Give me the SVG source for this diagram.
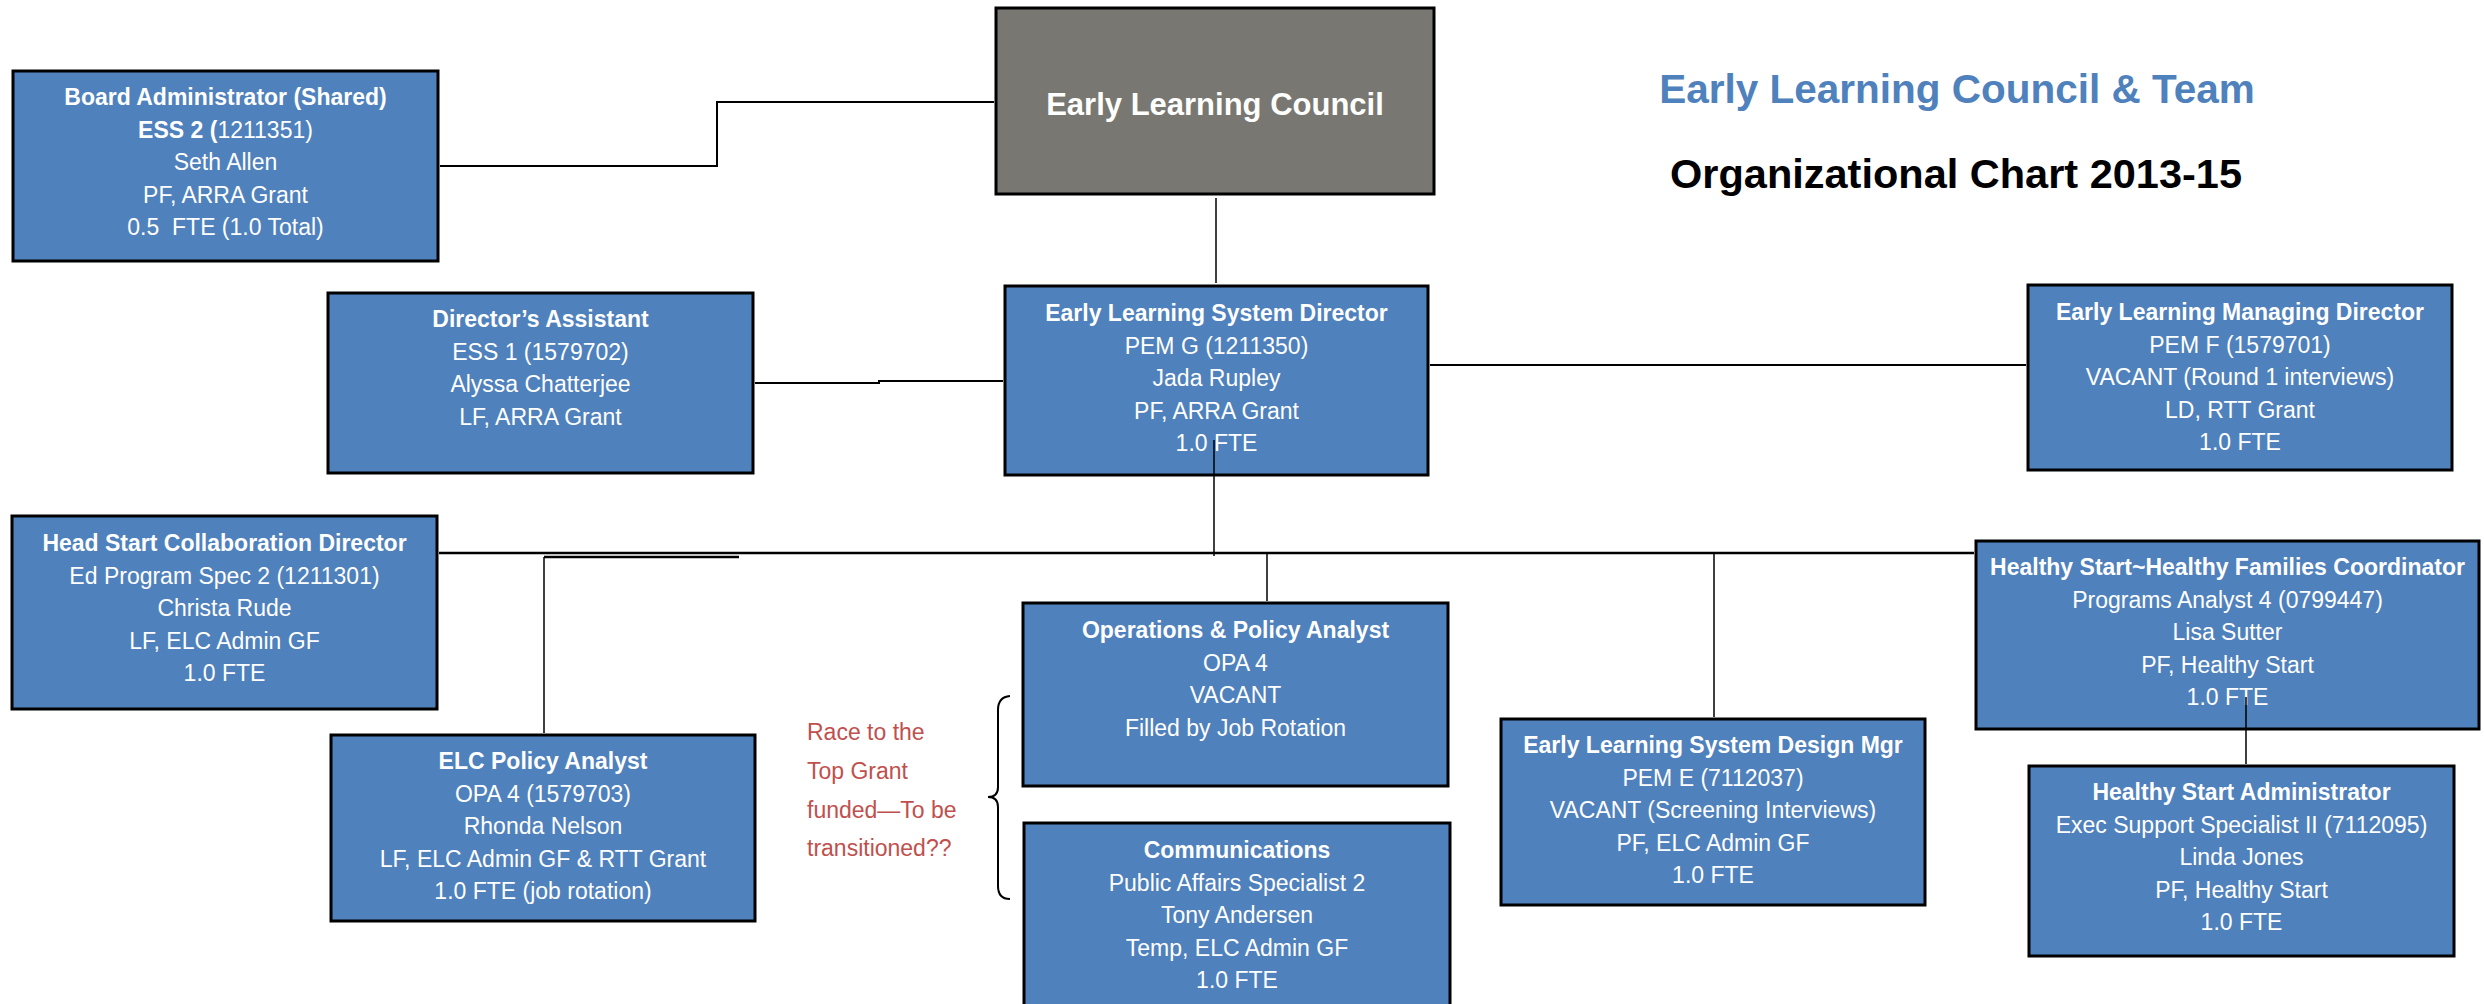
<svg xmlns="http://www.w3.org/2000/svg" width="2484" height="1004" viewBox="0 0 2484 1004">
<style>
.box{fill:#4f81bd;stroke:#000;stroke-width:3}
.grey{fill:#787771;stroke:#000;stroke-width:3}
.t{font-family:"Liberation Sans",Arial,sans-serif;font-size:23px;fill:#fff;text-anchor:middle;white-space:pre}
.b{font-weight:bold}
.c{stroke:#000;fill:none}
.red{font-family:"Liberation Sans",Arial,sans-serif;font-size:23px;fill:#c0504d}
</style>
<rect width="2484" height="1004" fill="#fff"/>
<g id="title">
<text x="1957" y="103" font-family="Liberation Sans, Arial, sans-serif" font-size="40.5" font-weight="bold" fill="#4f81bd" text-anchor="middle">Early Learning Council &amp; Team</text>
<text x="1956" y="188" font-family="Liberation Sans, Arial, sans-serif" font-size="41.5" font-weight="bold" fill="#000" text-anchor="middle">Organizational Chart 2013-15</text>
</g>
<g id="board-admin">
<rect class="box" x="13" y="71" width="425" height="190"/>
<text class="t"><tspan class="b" x="225.5" y="105">Board Administrator (Shared)</tspan><tspan x="225.5" y="137.5"><tspan class="b">ESS 2 (</tspan>1211351)</tspan><tspan x="225.5" y="170">Seth Allen</tspan><tspan x="225.5" y="202.5">PF, ARRA Grant</tspan><tspan x="225.5" y="235">0.5  FTE (1.0 Total)</tspan></text>
</g>
<g id="council">
<rect class="grey" x="996" y="8" width="438" height="186"/>
<text class="t b" x="1215" y="115" font-size="31" style="font-size:31px">Early Learning Council</text>
</g>
<g id="directors-assistant">
<rect class="box" x="328" y="293" width="425" height="180"/>
<text class="t"><tspan class="b" x="540.5" y="327">Director’s Assistant</tspan><tspan x="540.5" y="359.5">ESS 1 (1579702)</tspan><tspan x="540.5" y="392">Alyssa Chatterjee</tspan><tspan x="540.5" y="424.5">LF, ARRA Grant</tspan></text>
</g>
<g id="system-director">
<rect class="box" x="1005" y="286" width="423" height="189"/>
<text class="t"><tspan class="b" x="1216.5" y="321">Early Learning System Director</tspan><tspan x="1216.5" y="353.5">PEM G (1211350)</tspan><tspan x="1216.5" y="386">Jada Rupley</tspan><tspan x="1216.5" y="418.5">PF, ARRA Grant</tspan><tspan x="1216.5" y="451">1.0 FTE</tspan></text>
</g>
<g id="managing-director">
<rect class="box" x="2028" y="285" width="424" height="185"/>
<text class="t"><tspan class="b" x="2240" y="320">Early Learning Managing Director</tspan><tspan x="2240" y="352.5">PEM F (1579701)</tspan><tspan x="2240" y="385">VACANT (Round 1 interviews)</tspan><tspan x="2240" y="417.5">LD, RTT Grant</tspan><tspan x="2240" y="450">1.0 FTE</tspan></text>
</g>
<g id="head-start-director">
<rect class="box" x="12" y="516" width="425" height="193"/>
<text class="t"><tspan class="b" x="224.5" y="551">Head Start Collaboration Director</tspan><tspan x="224.5" y="583.5">Ed Program Spec 2 (1211301)</tspan><tspan x="224.5" y="616">Christa Rude</tspan><tspan x="224.5" y="648.5">LF, ELC Admin GF</tspan><tspan x="224.5" y="681">1.0 FTE</tspan></text>
</g>
<g id="elc-policy-analyst">
<rect class="box" x="331" y="735" width="424" height="186"/>
<text class="t"><tspan class="b" x="543" y="769">ELC Policy Analyst</tspan><tspan x="543" y="801.5">OPA 4 (1579703)</tspan><tspan x="543" y="834">Rhonda Nelson</tspan><tspan x="543" y="866.5">LF, ELC Admin GF &amp; RTT Grant</tspan><tspan x="543" y="899">1.0 FTE (job rotation)</tspan></text>
</g>
<g id="rtt-note">
<text class="red"><tspan x="807" y="740">Race to the</tspan><tspan x="807" y="779">Top Grant</tspan><tspan x="807" y="818">funded—To be</tspan><tspan x="807" y="856">transitioned??</tspan></text>
<path class="c" stroke-width="2" d="M1010,696 Q998,697 998,710 L998,787 Q998,797 988,797 Q998,797 998,807 L998,886 Q998,899 1010,899"/>
</g>
<g id="operations-analyst">
<rect class="box" x="1023" y="603" width="425" height="183"/>
<text class="t"><tspan class="b" x="1235.5" y="638">Operations &amp; Policy Analyst</tspan><tspan x="1235.5" y="670.5">OPA 4</tspan><tspan x="1235.5" y="703">VACANT</tspan><tspan x="1235.5" y="735.5">Filled by Job Rotation</tspan></text>
</g>
<g id="communications">
<rect class="box" x="1024" y="823" width="426" height="190"/>
<text class="t"><tspan class="b" x="1237" y="858">Communications</tspan><tspan x="1237" y="890.5">Public Affairs Specialist 2</tspan><tspan x="1237" y="923">Tony Andersen</tspan><tspan x="1237" y="955.5">Temp, ELC Admin GF</tspan><tspan x="1237" y="988">1.0 FTE</tspan></text>
</g>
<g id="design-mgr">
<rect class="box" x="1501" y="719" width="424" height="186"/>
<text class="t"><tspan class="b" x="1713" y="753">Early Learning System Design Mgr</tspan><tspan x="1713" y="785.5">PEM E (7112037)</tspan><tspan x="1713" y="818">VACANT (Screening Interviews)</tspan><tspan x="1713" y="850.5">PF, ELC Admin GF</tspan><tspan x="1713" y="883">1.0 FTE</tspan></text>
</g>
<g id="hs-coordinator">
<rect class="box" x="1976" y="541" width="503" height="188"/>
<text class="t"><tspan class="b" x="2227.5" y="575">Healthy Start~Healthy Families Coordinator</tspan><tspan x="2227.5" y="607.5">Programs Analyst 4 (0799447)</tspan><tspan x="2227.5" y="640">Lisa Sutter</tspan><tspan x="2227.5" y="672.5">PF, Healthy Start</tspan><tspan x="2227.5" y="705">1.0 FTE</tspan></text>
</g>
<g id="hs-administrator">
<rect class="box" x="2029" y="766" width="425" height="190"/>
<text class="t"><tspan class="b" x="2241.5" y="800">Healthy Start Administrator</tspan><tspan x="2241.5" y="832.5">Exec Support Specialist II (7112095)</tspan><tspan x="2241.5" y="865">Linda Jones</tspan><tspan x="2241.5" y="897.5">PF, Healthy Start</tspan><tspan x="2241.5" y="930">1.0 FTE</tspan></text>
</g>
<g id="connectors">
<polyline class="c" stroke-width="2" points="440,166 717,166 717,102 994,102"/>
<line class="c" stroke-width="1.5" x1="1216" y1="198" x2="1216" y2="283"/>
<polyline class="c" stroke-width="2" points="755,383 879,383 879,381 1003,381"/>
<line class="c" stroke-width="2" x1="1430" y1="365" x2="2026" y2="365"/>
<line class="c" stroke-width="1.5" x1="1214" y1="440" x2="1214" y2="556"/>
<line class="c" stroke-width="2.5" x1="439" y1="553" x2="1974" y2="553"/>
<line class="c" stroke-width="2.5" x1="544" y1="557" x2="739" y2="557"/>
<line class="c" stroke-width="1.5" x1="544" y1="557" x2="544" y2="733"/>
<line class="c" stroke-width="1.5" x1="1267" y1="553" x2="1267" y2="601"/>
<line class="c" stroke-width="1.5" x1="1714" y1="552" x2="1714" y2="717"/>
<line class="c" stroke-width="1.5" x1="2246" y1="697" x2="2246" y2="764"/>
</g>
</svg>
